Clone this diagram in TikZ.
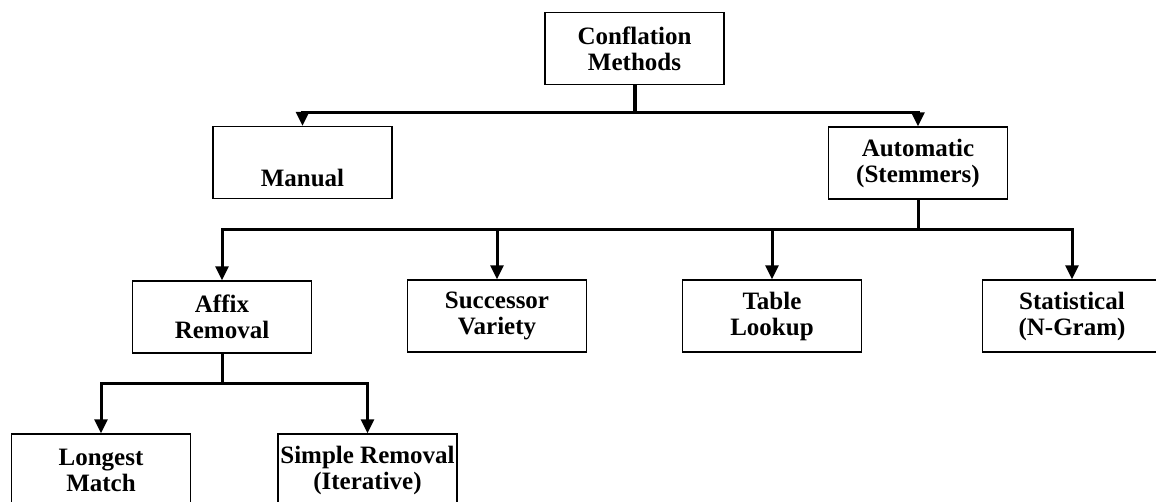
\documentclass[tikz,border=0pt]{standalone}
\usepackage{fontspec}
\setmainfont{Liberation Serif}
\usetikzlibrary{arrows.meta, positioning}

\tikzset{
  methodbox/.style={draw, line width=1.4pt, minimum width=179pt, minimum height=72pt,
    inner xsep=0pt, align=center, font=\fontsize{25}{26}\selectfont\bfseries},
  stem/.style={line width=3pt},
  link/.style={stem, -{Triangle[length=14pt,width=13pt]}},
}

\begin{document}
\begin{tikzpicture}[x=1pt, y=-1pt]
    \useasboundingbox (0,0) rectangle (1156,501);
    \clip (0,0) rectangle (1156,501);

    % top level
    \node[methodbox] (conf) at (634.5,48.5) {Conflation\\Methods};
    \node[methodbox] (manual) at (302.5,162.5) {\rule{0pt}{22pt}\\Manual};
    \node[methodbox] (auto) at (918,163) {Automatic\\(Stemmers)};

    % stemmer kinds
    \node[methodbox] (affix) at (222,317) {Affix\\Removal};
    \node[methodbox] (succ) at (497,316) {Successor\\Variety};
    \node[methodbox] (table) at (772,316) {Table\\Lookup};
    \node[methodbox] (stat) at (1072,316) {Statistical\\(N-Gram)};

    % affix removal kinds
    \node[methodbox] (longest) at (101,470) {Longest\\Match};
    \node[methodbox] (simple) at (367.5,470) {Simple Removal\\(Iterative)};

    \coordinate (confsplit) at (634.5,112);
    \coordinate (autosplit) at (918,229);
    \coordinate (affixsplit) at (222,383);

    \draw[stem, line width=4pt] (conf.south) -- (confsplit);
    \draw[link] (confsplit) -| (manual.north);
    \draw[link] (confsplit) -| (auto.north);

    \draw[stem] (auto.south) -- (autosplit);
    \draw[link] (autosplit) -| (affix.north);
    \draw[link] (autosplit) -| (succ.north);
    \draw[link] (autosplit) -| (table.north);
    \draw[link] (autosplit) -| (stat.north);

    \draw[stem] (affix.south) -- (affixsplit);
    \draw[link] (affixsplit) -| (longest.north);
    \draw[link] (affixsplit) -| (simple.north);
\end{tikzpicture}
\end{document}
